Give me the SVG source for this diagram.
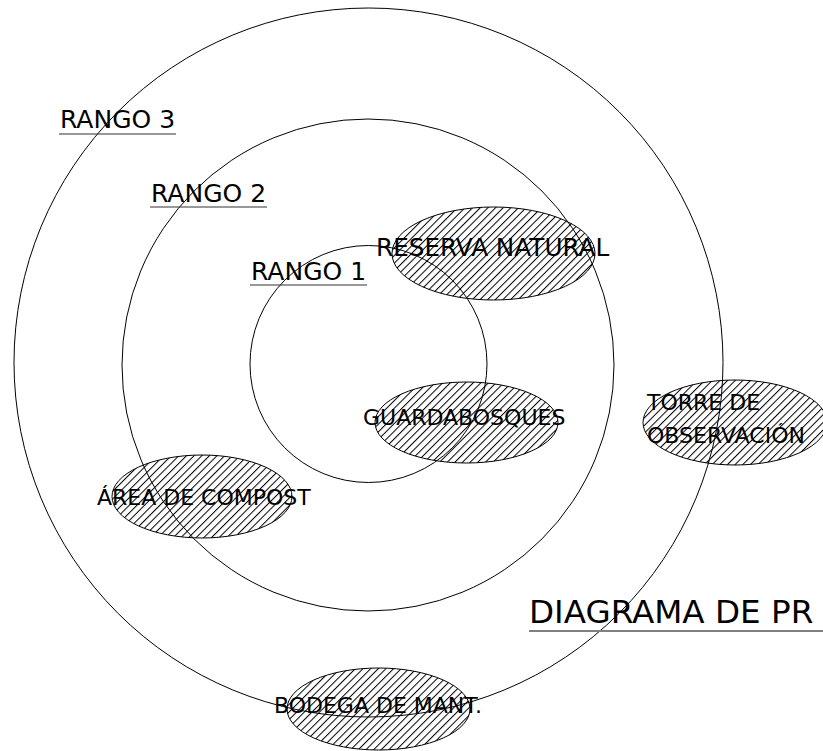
<svg xmlns="http://www.w3.org/2000/svg" width="823" height="751" viewBox="0 0 823 751">
<defs>
<pattern id="hatch" patternUnits="userSpaceOnUse" width="5.4" height="5.4" patternTransform="rotate(45)">
<line x1="0.5" y1="-1" x2="0.5" y2="7" stroke="#000" stroke-width="1"/>
</pattern>
<style>
.ring{fill:none;stroke:#000;stroke-width:1}
.zone{fill:url(#hatch);stroke:#000;stroke-width:1}
.t{font-family:"DejaVu Sans","Verdana",sans-serif;font-size:22px;fill:#000}
.big{font-size:25px}
.ul{stroke:#333;stroke-width:1.2}
</style>
</defs>
<rect width="823" height="751" fill="#fff"/>
<g id="rings">
<circle id="rango3" class="ring" cx="368.5" cy="362.5" r="354.5"/>
<circle id="rango2" class="ring" cx="368" cy="365" r="246"/>
<circle id="rango1" class="ring" cx="368.5" cy="364" r="118.5"/>
</g>
<g id="labels">
<g id="lbl-rango3"><text class="t big" x="60" y="128">RANGO 3</text><line class="ul" x1="59" y1="134" x2="176" y2="134"/></g>
<g id="lbl-rango2"><text class="t big" x="151" y="202">RANGO 2</text><line class="ul" x1="150" y1="207" x2="267" y2="207"/></g>
<g id="lbl-rango1"><text class="t big" x="251" y="280">RANGO 1</text><line class="ul" x1="250" y1="285" x2="367" y2="285"/></g>
</g>
<g id="reserva"><ellipse class="zone" cx="493.5" cy="253.5" rx="101.5" ry="46.5"/><text class="t" x="376" y="256" style="font-size:24.7px">RESERVA NATURAL</text></g>
<g id="guardabosques"><ellipse class="zone" cx="466.5" cy="422.5" rx="91.5" ry="40.5"/><text class="t" x="363" y="425">GUARDABOSQUES</text></g>
<g id="torre"><ellipse class="zone" cx="735" cy="422.5" rx="92" ry="42.5"/><text class="t" x="647" y="410">TORRE DE</text><text class="t" x="647" y="443">OBSERVACIÓN</text></g>
<g id="compost"><ellipse class="zone" cx="202" cy="496.5" rx="90" ry="41.5"/><text class="t" x="97" y="505">ÁREA DE COMPOST</text></g>
<g id="bodega"><ellipse class="zone" cx="378.5" cy="709" rx="91.5" ry="41"/><text class="t" x="274" y="713">BODEGA DE MANT.</text></g>
<g id="title"><text class="t" x="529" y="623" style="font-size:32.6px">DIAGRAMA DE PR</text><line x1="529" y1="631" x2="823" y2="631" stroke="#808080" stroke-width="2"/></g>
</svg>
